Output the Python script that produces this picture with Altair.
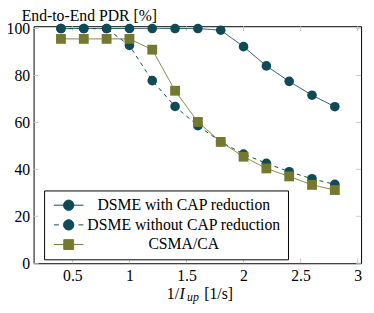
import altair as alt
import pandas as pd

x_vals = [0.4, 0.6, 0.8, 1.0, 1.2, 1.4, 1.6, 1.8, 2.0, 2.2, 2.4, 2.6, 2.8]
dsme_cap = [100, 100, 100, 100, 100, 100, 100, 99.3, 92.3, 84.1, 77.5, 71.6, 66.7]
dsme_nocap = [100, 100, 100, 92.8, 77.8, 66.8, 58.6, 51.8, 46.5, 42.6, 39.0, 36.0, 33.6]
csma = [95.6, 95.6, 95.6, 95.6, 91.0, 73.5, 60.2, 51.7, 45.4, 40.4, 37.0, 33.4, 31.2]

series = ["DSME with CAP reduction", "DSME without CAP reduction", "CSMA/CA"]
values = [dsme_cap, dsme_nocap, csma]
colors = ["#0f4a56", "#0f4a56", "#75792f"]

x_ticks = [0.5, 1.0, 1.5, 2.0, 2.5, 3.0]
y_ticks = [0, 20, 40, 60, 80, 100]

W, H = 333, 241
FONT = "Liberation Serif"
FS = 16

rows = []
for s, vals in zip(series, values):
    for xv, yv in zip(x_vals, vals):
        rows.append({"x": xv, "y": yv, "series": s})
df = pd.DataFrame(rows)

xscale = alt.Scale(domain=[0.16, 3.03], nice=False, zero=False)
yscale = alt.Scale(domain=[0, 101], nice=False)
cscale = alt.Scale(domain=series, range=colors)

xaxis = alt.Axis(values=x_ticks, format="~g", ticks=False, domain=False, grid=False,
                 labelFont=FONT, labelFontSize=FS, labelColor="black", labelPadding=5,
                 title=None)
yaxis = alt.Axis(values=y_ticks, ticks=False, domain=False, grid=False,
                 labelFont=FONT, labelFontSize=FS, labelColor="black", labelPadding=4,
                 title="End-to-End PDR [%]", titleAngle=0, titleAlign="left",
                 titleBaseline="alphabetic", titleX=-12.6, titleY=-6,
                 titleFont=FONT, titleFontSize=FS, titleFontWeight="normal",
                 titleColor="black")

base = alt.Chart(df)

# inward ticks
xt = pd.DataFrame({"t": x_ticks})
yt = pd.DataFrame({"t": y_ticks})
tick_color = "#c8c8c8"
xtick_b = alt.Chart(xt).mark_rule(color=tick_color, strokeWidth=1).encode(
    x=alt.X("t:Q", scale=xscale, axis=xaxis), y=alt.value(H), y2=alt.value(H - 5))
xtick_t = alt.Chart(xt).mark_rule(color=tick_color, strokeWidth=1).encode(
    x=alt.X("t:Q", scale=xscale), y=alt.value(0), y2=alt.value(5))
ytick_l = alt.Chart(yt).mark_rule(color=tick_color, strokeWidth=1).encode(
    y=alt.Y("t:Q", scale=yscale, axis=yaxis), x=alt.value(0), x2=alt.value(5))
ytick_r = alt.Chart(yt).mark_rule(color=tick_color, strokeWidth=1).encode(
    y=alt.Y("t:Q", scale=yscale), x=alt.value(W), x2=alt.value(W - 5))

layers = [xtick_b, xtick_t, ytick_l, ytick_r]

# legend layer (tiny markers hidden under the real ones; drives the legend)
circ = "M3.05,0A1.05,1.05,0,1,1,0.95,0A1.05,1.05,0,1,1,3.05,0Z"
paths = [
    "M-1,0L5,0" + circ,
    "M-1,0L0,0M4,0L5,0" + circ,
    "M-1,0L5,0M1,-1L3,-1L3,1L1,1Z",
]
leg = alt.Legend(orient="none", legendX=10.7, legendY=167, title=None,
                 padding=7, strokeColor="black", fillColor="white",
                 symbolSize=100, symbolStrokeWidth=1, symbolOpacity=1,
                 labelFont=FONT, labelFontSize=FS, labelColor="black",
                 labelAlign="center", labelOffset=119, labelLimit=400,
                 rowPadding=4)
legend_layer = base.mark_point(filled=True, size=1, opacity=1).encode(
    x=alt.X("x:Q", scale=xscale),
    y=alt.Y("y:Q", scale=yscale),
    shape=alt.Shape("series:N", scale=alt.Scale(domain=series, range=paths), legend=leg),
    fill=alt.Fill("series:N", scale=alt.Scale(domain=series, range=colors), legend=leg),
    stroke=alt.Stroke("series:N", scale=alt.Scale(domain=series, range=colors), legend=leg),
)
layers.append(legend_layer)

dashes = [[1, 0], [4, 4], [1, 0]]
for s, d in zip(series, dashes):
    sub = base.transform_filter(alt.datum.series == s)
    line = sub.mark_line(strokeWidth=1, strokeDash=d).encode(
        x=alt.X("x:Q", scale=xscale),
        y=alt.Y("y:Q", scale=yscale),
        color=alt.Color("series:N", scale=cscale, legend=None),
    )
    if s == "CSMA/CA":
        pts = sub.mark_square(size=100, opacity=1)
    else:
        pts = sub.mark_circle(size=95, opacity=1)
    pts = pts.encode(
        x=alt.X("x:Q", scale=xscale),
        y=alt.Y("y:Q", scale=yscale),
        color=alt.Color("series:N", scale=cscale, legend=None),
    )
    layers += [line, pts]

# x-axis title composed of pieces (subscript)
one = pd.DataFrame({"a": [0]})
tx0 = 135.5
title_base = 277
t1 = alt.Chart(one).mark_text(text="1/", font=FONT, fontSize=FS, align="left",
                              baseline="alphabetic", color="black").encode(
    x=alt.value(tx0), y=alt.value(title_base))
t2 = alt.Chart(one).mark_text(text="I", font=FONT, fontSize=FS, fontStyle="italic",
                              align="left", baseline="alphabetic", color="black").encode(
    x=alt.value(tx0 + 13), y=alt.value(title_base))
t3 = alt.Chart(one).mark_text(text="up", font=FONT, fontSize=12, fontStyle="italic",
                              align="left", baseline="alphabetic", color="black").encode(
    x=alt.value(tx0 + 20.5), y=alt.value(title_base + 2.5))
t4 = alt.Chart(one).mark_text(text="[1/s]", font=FONT, fontSize=FS, align="left",
                              baseline="alphabetic", color="black").encode(
    x=alt.value(tx0 + 38), y=alt.value(title_base))
layers += [t1, t2, t3, t4]

chart = alt.layer(*layers).properties(
    width=W, height=H,
    autosize=alt.AutoSizeParams(type="none"),
    padding={"left": 26, "top": 16, "right": 5, "bottom": 44},
    background="white",
).configure_view(stroke="black", strokeWidth=1)

chart.save("out.html", embed_options={"renderer": "svg", "actions": False})
